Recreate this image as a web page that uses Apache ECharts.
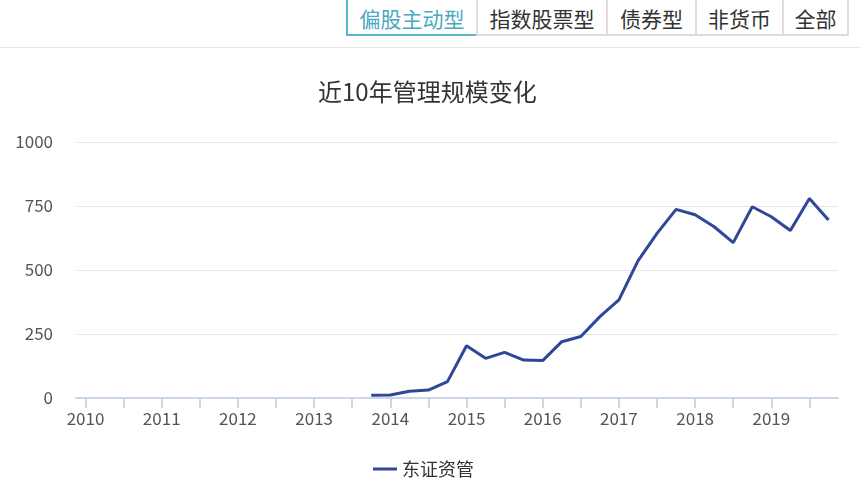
<!DOCTYPE html>
<html>
<head>
<meta charset="utf-8">
<script src="https://cdn.jsdelivr.net/npm/echarts@6/dist/echarts.min.js"></script>
<style>
html,body{margin:0;padding:0;background:#fff;width:861px;height:497px;overflow:hidden;font-family:"Noto Sans CJK SC","Noto Sans",sans-serif;}
#bar{position:absolute;left:0;top:0;width:861px;height:48px;border-bottom:1px solid #e6e6e6;box-sizing:border-box;}
.btn{position:absolute;top:-2px;height:38px;box-sizing:border-box;border:2px solid #dcdcdc;font-size:21px;line-height:36px;text-align:center;color:#333;background:#fff;}
.btn.active{border-color:#5ab5cb;color:#4aa9c2;}
#chart{position:absolute;left:0;top:0;width:861px;height:497px;}
</style>
</head>
<body>
<div id="chart"></div>
<div id="bar">
  <div class="btn active" style="left:346px;width:132px;">偏股主动型</div>
  <div class="btn" style="left:476px;width:132px;">指数股票型</div>
  <div class="btn" style="left:606px;width:91px;">债券型</div>
  <div class="btn" style="left:695px;width:89px;">非货币</div>
  <div class="btn" style="left:782px;width:67px;">全部</div>
</div>
<script>
const categories = [
  "2010Q1","2010Q2","2010Q3","2010Q4",
  "2011Q1","2011Q2","2011Q3","2011Q4",
  "2012Q1","2012Q2","2012Q3","2012Q4",
  "2013Q1","2013Q2","2013Q3","2013Q4",
  "2014Q1","2014Q2","2014Q3","2014Q4",
  "2015Q1","2015Q2","2015Q3","2015Q4",
  "2016Q1","2016Q2","2016Q3","2016Q4",
  "2017Q1","2017Q2","2017Q3","2017Q4",
  "2018Q1","2018Q2","2018Q3","2018Q4",
  "2019Q1","2019Q2","2019Q3","2019Q4"
];
const seriesName = "东证资管";
const values = [
  null,null,null,null,
  null,null,null,null,
  null,null,null,null,
  null,null,null,11,
  12,26,31,64,
  204,155,178,148,
  146,220,240,318,
  383,536,643,737,
  716,669,607,747,
  708,654,779,695
];
const yTicks = [0,250,500,750,1000];
const titleText = "近10年管理规模变化";

const chart = echarts.init(document.getElementById('chart'), null, {renderer:'canvas'});
const font = '"Noto Sans CJK SC","Noto Sans",sans-serif';
chart.setOption({
  animation:false,
  textStyle:{fontFamily:font},
  title:{text:titleText,left:313,top:75,textStyle:{fontSize:24,fontWeight:'normal',color:'#333',fontFamily:font}},
  legend:{bottom:14,left:368,itemWidth:24,itemHeight:3,icon:'rect',itemGap:10,
    textStyle:{fontSize:18,color:'#333',fontFamily:font},data:[seriesName]},
  grid:{left:76,right:23,top:142,bottom:99,containLabel:false},
  xAxis:{type:'category',data:categories,boundaryGap:true,
    axisLine:{show:true,lineStyle:{color:'#ccd6eb',width:2}},
    axisTick:{show:true,alignWithLabel:true,interval:1,length:10,lineStyle:{color:'#ccd6eb',width:2}},
    axisLabel:{interval:3,margin:12,fontSize:17,color:'#555',fontFamily:font,formatter:v=>v.slice(0,4)},
    splitLine:{show:false}},
  yAxis:{type:'value',min:yTicks[0],max:yTicks[yTicks.length-1],interval:250,
    axisLine:{show:false},axisTick:{show:false},
    axisLabel:{margin:23,fontSize:17,color:'#555',fontFamily:font,formatter:v=>String(v)},
    splitLine:{lineStyle:{color:'#e6e6e6',width:1}}},
  series:[{name:seriesName,type:'line',data:values,symbol:'none',showSymbol:false,
    lineStyle:{color:'#2f4796',width:3},itemStyle:{color:'#2f4796'}}]
});
</script>
</body>
</html>
